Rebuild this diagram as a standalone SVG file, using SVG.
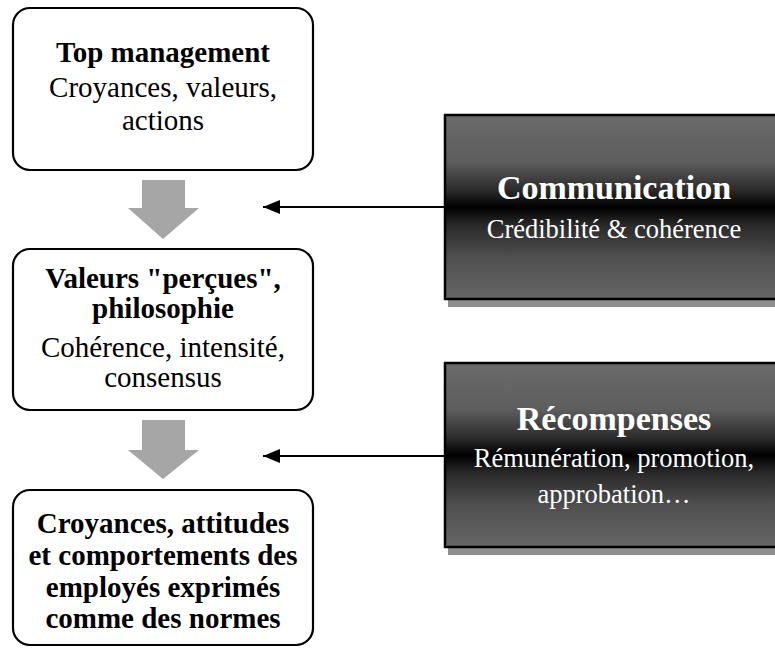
<svg xmlns="http://www.w3.org/2000/svg" width="775" height="648" viewBox="0 0 775 648">
  <defs>
    <linearGradient id="shade" x1="0" y1="0" x2="0" y2="1">
      <stop offset="0" stop-color="#6a6a6a"/>
      <stop offset="0.25" stop-color="#5e5e5e"/>
      <stop offset="0.4" stop-color="#2e2e2e"/>
      <stop offset="0.5" stop-color="#000000"/>
      <stop offset="0.6" stop-color="#2a2a2a"/>
      <stop offset="0.78" stop-color="#505050"/>
      <stop offset="1" stop-color="#666666"/>
    </linearGradient>
    <marker id="ah" markerUnits="userSpaceOnUse" markerWidth="18" markerHeight="14" refX="17" refY="7" orient="auto">
      <path d="M0,0 L17,7 L0,14 Z" fill="#000"/>
    </marker>
  </defs>
  <style>
    .lbox { fill: #fff; stroke: #000; stroke-width: 2.2; }
    .dbox { fill: url(#shade); stroke: #000; stroke-width: 2.5; }
    .shadow { fill: #8f8f8f; }
    .big { fill: #a6a6a6; }
    .conn { stroke: #000; stroke-width: 2; fill: none; marker-end: url(#ah); }
    text { font-family: "Liberation Serif", "Times New Roman", serif; text-anchor: middle; }
    .b { font-weight: bold; font-size: 29px; fill: #000; }
    .r { font-size: 29px; fill: #000; }
    .wb { font-weight: bold; font-size: 34px; fill: #fff; }
    .wr { font-size: 26.5px; fill: #fff; }
  </style>

  <g id="top-management">
    <rect class="lbox" x="13" y="8" width="300" height="162" rx="17"/>
    <text class="b" x="163" y="62">Top management</text>
    <text class="r" x="163" y="97">Croyances, valeurs,</text>
    <text class="r" x="163" y="130">actions</text>
  </g>

  <g id="valeurs">
    <rect class="lbox" x="13" y="249" width="300" height="161" rx="17"/>
    <text class="b" x="163" y="288">Valeurs "perçues",</text>
    <text class="b" x="163" y="318">philosophie</text>
    <text class="r" x="163" y="357">Cohérence, intensité,</text>
    <text class="r" x="163" y="387">consensus</text>
  </g>

  <g id="croyances">
    <rect class="lbox" x="13" y="490" width="300" height="155" rx="17"/>
    <text class="b" x="163" y="533">Croyances, attitudes</text>
    <text class="b" x="163" y="565">et comportements des</text>
    <text class="b" x="163" y="597">employés exprimés</text>
    <text class="b" x="163" y="628">comme des normes</text>
  </g>

  <g id="communication">
    <rect class="shadow" x="448" y="119" width="340" height="188"/>
    <rect class="dbox" x="445" y="115" width="338" height="184"/>
    <text class="wb" x="614" y="199">Communication</text>
    <text class="wr" x="614" y="238">Crédibilité &amp; cohérence</text>
  </g>

  <g id="recompenses">
    <rect class="shadow" x="448" y="367" width="340" height="188"/>
    <rect class="dbox" x="445" y="363" width="338" height="184"/>
    <text class="wb" x="614" y="430">Récompenses</text>
    <text class="wr" x="614" y="467">Rémunération, promotion,</text>
    <text class="wr" x="614" y="503">approbation…</text>
  </g>

  <g id="connectors">
    <path class="big" d="M142,180 H185 V208 H199 L163,239 L128,208 H142 Z"/>
    <path class="big" d="M142,420 H185 V450 H199 L163,479 L128,450 H142 Z"/>
    <line class="conn" x1="445" y1="207" x2="263" y2="207"/>
    <line class="conn" x1="445" y1="456" x2="263" y2="456"/>
  </g>
</svg>
